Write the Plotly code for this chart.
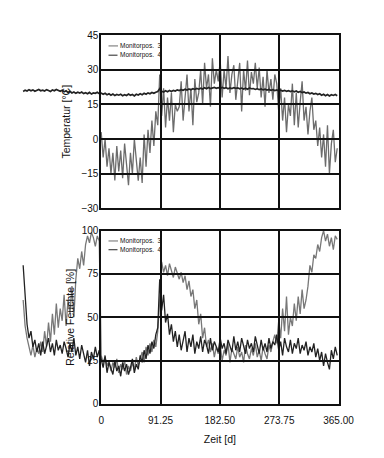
import plotly.graph_objects as go

# ---------------- data ----------------
days_ext = list(range(-120, 364, 3))   # 162 sampling days (series that extend left of the frame)
days_in = list(range(0, 364, 3))       # 122 sampling days

temp_pos3 = [3, -8, 0, -12, -4, -15, -6, -18, -3, -14,
             -5, -17, -2, -13, -20, -6, -15, 0, -10, -18,
             -8, -19, 2, -12, 4, -6, 8, -3, 12, 6,
             28, 10, 22, 5, 18, 8, 20, 3, 15, 12,
             14, 25, 8, 20, 28, 12, 22, 6, 26, 16,
             20, 30, 15, 33, 22, 28, 14, 35, 24, 30,
             25, 34, 18, 30, 22, 36, 20, 28, 32, 17,
             26, 33, 12, 30, 21, 34, 19, 29, 24, 33,
             22, 31, 18, 27, 14, 30, 20, 26, 17, 28,
             24, 12, 22, 8, 18, 3, 15, 10, 24, 6,
             20, 5, 16, 25, 8, 14, 2, 12, 18, 4,
             8, -3, 5, -8, 2, -12, 6, -15, -2, 4, -10, -4]

temp_pos4 = [20.6, 21.2, 20.8, 21.4, 20.9, 21.3, 20.7, 21.1, 21.5, 20.9,
             21.2, 20.8, 21.4, 21.0, 20.6, 21.3, 20.9, 21.5, 21.0, 20.7,
             21.1, 20.5, 20.9, 20.2, 20.7, 20.0, 20.4, 19.8, 20.3, 19.9,
             20.4, 19.7, 20.1, 19.6, 20.2, 19.5, 20.0, 19.8, 20.3, 19.7,
             19.9, 19.4, 19.8, 19.2, 19.6, 19.0, 19.5, 18.9, 19.3, 19.0,
             19.4, 18.8, 19.2, 18.9, 19.5, 19.0, 19.3, 18.7, 19.4, 19.1,
             19.6, 19.2, 19.8, 19.4, 20.0, 19.6, 20.2, 19.8, 20.3, 20.6,
             21.8, 20.7, 20.4, 20.9, 20.5, 21.0, 20.6, 21.1, 20.8, 21.3,
             21.0, 21.4, 21.1, 21.6, 21.2, 21.7, 21.3, 21.8, 21.5, 21.9,
             21.6, 22.0, 21.7, 22.2, 21.8, 22.3, 21.9, 22.1, 22.4, 22.0,
             22.3, 21.9, 22.4, 22.0, 22.3, 21.8, 22.2, 21.9, 22.3, 22.0,
             22.2, 21.8, 22.1, 21.7, 22.0, 21.6, 22.1, 21.8, 21.9, 21.5,
             21.8, 21.4, 21.7, 21.3, 21.6, 21.2, 21.5, 21.1, 21.4, 21.0,
             21.3, 20.9, 21.2, 20.8, 21.1, 20.7, 21.0, 20.6, 20.9, 20.5,
             20.8, 20.3, 20.6, 20.1, 20.4, 19.9, 20.2, 19.6, 20.0, 19.5,
             19.8, 19.3, 19.6, 19.0, 19.4, 18.8, 19.3, 18.7, 19.2, 18.9, 19.3, 18.8]

hum_pos3 = [60, 45, 38, 33, 28, 34, 27, 32, 29, 36,
            30, 42, 33, 47, 36, 52, 40, 58, 44, 55,
            48, 63, 45, 60, 52, 68, 50, 72, 84, 78,
            88, 80, 92, 97, 93, 99, 96, 91, 97, 94,
            28, 24, 27, 22, 25, 19, 24, 21, 26, 18,
            23, 20, 25, 17, 22, 19, 24, 20, 27, 22,
            26, 30, 24, 33, 28, 35, 30, 37, 33, 42,
            60, 82, 76, 80, 74, 81, 77, 73, 79, 75,
            72, 76, 70, 74, 66, 71, 62, 66, 55, 60,
            46, 52, 38, 44, 33, 37, 30, 35, 27, 33,
            29, 34, 25, 31, 28, 35, 24, 32, 29, 26,
            33, 27, 30, 24, 34, 29, 26, 32, 28, 35,
            27, 31, 25, 33, 29, 26, 34, 30, 36, 40,
            35, 48, 38, 55, 42, 62, 40, 50, 45, 58,
            48, 62, 52, 66, 55, 60, 68, 80, 76, 86,
            84, 92, 88, 96, 100, 94, 98, 91, 96, 89, 97, 95]

hum_pos4 = [80, 62, 46, 38, 42, 33, 37, 30, 35, 28,
            36, 29, 33, 38, 30, 35, 28, 37, 31, 34,
            29, 36, 32, 27, 35, 30, 38, 28, 33, 26,
            34, 29, 24, 31, 22, 30, 26, 33, 27, 31,
            26, 21, 28, 18, 24, 20, 17, 25, 19, 22,
            16, 24, 19, 23, 17, 21, 26, 18, 23, 20,
            28, 24, 31, 26, 34, 29, 36, 32, 40, 44,
            72, 54, 63, 47, 52, 40, 46, 36, 42, 33,
            40, 31, 37, 42, 30, 38, 33, 40, 29, 36,
            32, 39, 30, 37, 34, 29, 38, 31, 36, 33,
            30, 38, 32, 35, 29, 37, 33, 30, 39, 31,
            36, 30, 38, 33, 29, 37, 32, 35, 30, 39,
            33, 29, 37, 31, 35, 30, 38, 32, 36, 34,
            40, 31, 36, 28, 38, 33, 30, 37, 29, 35,
            32, 38, 29, 34, 31, 36, 28, 33, 30, 35,
            27, 32, 25, 30, 22, 29, 24, 20, 31, 26, 33, 28]

x_tickvals = [0, 91.25, 182.5, 273.75, 365]
x_ticktext = ["0", "91.25", "182.50", "273.75", "365.00"]
temp_ticks = [-30, -15, 0, 15, 30, 45]
hum_ticks = [0, 25, 50, 75, 100]
legend_labels = ["Monitorpos.  3", "Monitorpos.  4"]

# ---------------- layout geometry (pixels) ----------------
W, H = 384, 458
X0, X1 = 103.3, 353.0
T_TOP, T_BOT = 30.0, 207.7
H_TOP, H_BOT = 230.7, 408.7

def px(x):
    return x / W

def py(y):
    return 1 - y / H

scale = 365.0 / (X1 - X0)
data_xrange = [-X0 * scale, 365 + (W - X1) * scale]

GRAY = "#6c6c6c"
GRAY2 = "#787878"
DARK = "#222222"
INK = "#111111"
FONT = "Liberation Sans, Arial, sans-serif"

fig = go.Figure()

# data traces on wide hidden axes (xy: temperature, x2y2: humidity)
fig.add_trace(go.Scatter(x=days_in, y=temp_pos3, mode="lines", xaxis="x", yaxis="y",
                         line=dict(color=GRAY, width=1.3), showlegend=False))
fig.add_trace(go.Scatter(x=days_ext, y=temp_pos4, mode="lines", xaxis="x", yaxis="y",
                         line=dict(color=DARK, width=1.7), showlegend=False))
fig.add_trace(go.Scatter(x=days_ext, y=hum_pos3, mode="lines", xaxis="x2", yaxis="y2",
                         line=dict(color=GRAY2, width=1.3), showlegend=False))
fig.add_trace(go.Scatter(x=days_ext, y=hum_pos4, mode="lines", xaxis="x2", yaxis="y2",
                         line=dict(color=DARK, width=1.3), showlegend=False))

hidden = dict(visible=False, showgrid=False, zeroline=False)
frame = dict(showline=True, mirror=True, linecolor=INK, linewidth=1.6,
             showgrid=True, gridcolor=INK, gridwidth=1.8, zeroline=False,
             ticks="", tickfont=dict(family=FONT, size=10, color=INK))

fig.update_layout(
    width=W, height=H,
    margin=dict(l=0, r=0, t=0, b=0),
    paper_bgcolor="white", plot_bgcolor="rgba(0,0,0,0)",
    showlegend=False,
    xaxis=dict(domain=[0, 1], range=data_xrange, anchor="y", **hidden),
    yaxis=dict(domain=[py(T_BOT), py(T_TOP)], range=[-30, 45], anchor="x", **hidden),
    xaxis2=dict(domain=[0, 1], range=data_xrange, anchor="y2", **hidden),
    yaxis2=dict(domain=[py(H_BOT), py(H_TOP)], range=[0, 100], anchor="x2", **hidden),
    xaxis3=dict(domain=[px(X0), px(X1)], range=[0, 365], anchor="y3",
                tickvals=x_tickvals, showticklabels=False, **frame),
    yaxis3=dict(domain=[py(T_BOT), py(T_TOP)], range=[-30, 45], anchor="x3",
                tickvals=temp_ticks, ticklabelstandoff=-1,
                title=dict(text="Temperatur [°C]", standoff=9,
                           font=dict(family=FONT, size=10.5, color=INK)), **frame),
    xaxis4=dict(domain=[px(X0), px(X1)], range=[0, 365], anchor="y4",
                tickvals=x_tickvals, ticktext=x_ticktext, ticklabelstandoff=6,
                title=dict(text="Zeit [d]", standoff=11,
                           font=dict(family=FONT, size=10.5, color=INK)), **frame),
    yaxis4=dict(domain=[py(H_BOT), py(H_TOP)], range=[0, 100], anchor="x4",
                tickvals=hum_ticks, ticklabelstandoff=-1,
                title=dict(text="Relative Feuchte [%]", standoff=5,
                           font=dict(family=FONT, size=10.5, color=INK)), **frame),
)

# the frame subplots carry an empty trace so that they are drawn
fig.add_trace(go.Scatter(x=[None], y=[None], xaxis="x3", yaxis="y3", showlegend=False, hoverinfo="skip"))
fig.add_trace(go.Scatter(x=[None], y=[None], xaxis="x4", yaxis="y4", showlegend=False, hoverinfo="skip"))

# small in-plot legends (one per panel)
legend_rows = [(41.0, 50.5), (241.3, 250.3)]
for (r1, r2) in legend_rows:
    for row_y, label, dash, col in [(r1, legend_labels[0], "solid", GRAY),
                                     (r2, legend_labels[1], "dash", DARK)]:
        fig.add_shape(type="line", xref="paper", yref="paper",
                      x0=px(111), x1=px(121), y0=py(row_y), y1=py(row_y),
                      line=dict(color=col, width=1, dash=dash))
        fig.add_annotation(xref="paper", yref="paper", x=px(121), y=py(row_y),
                           xanchor="left", yanchor="middle", showarrow=False,
                           text=label, font=dict(family=FONT, size=6.5, color=INK))

fig.write_html("out.html")
